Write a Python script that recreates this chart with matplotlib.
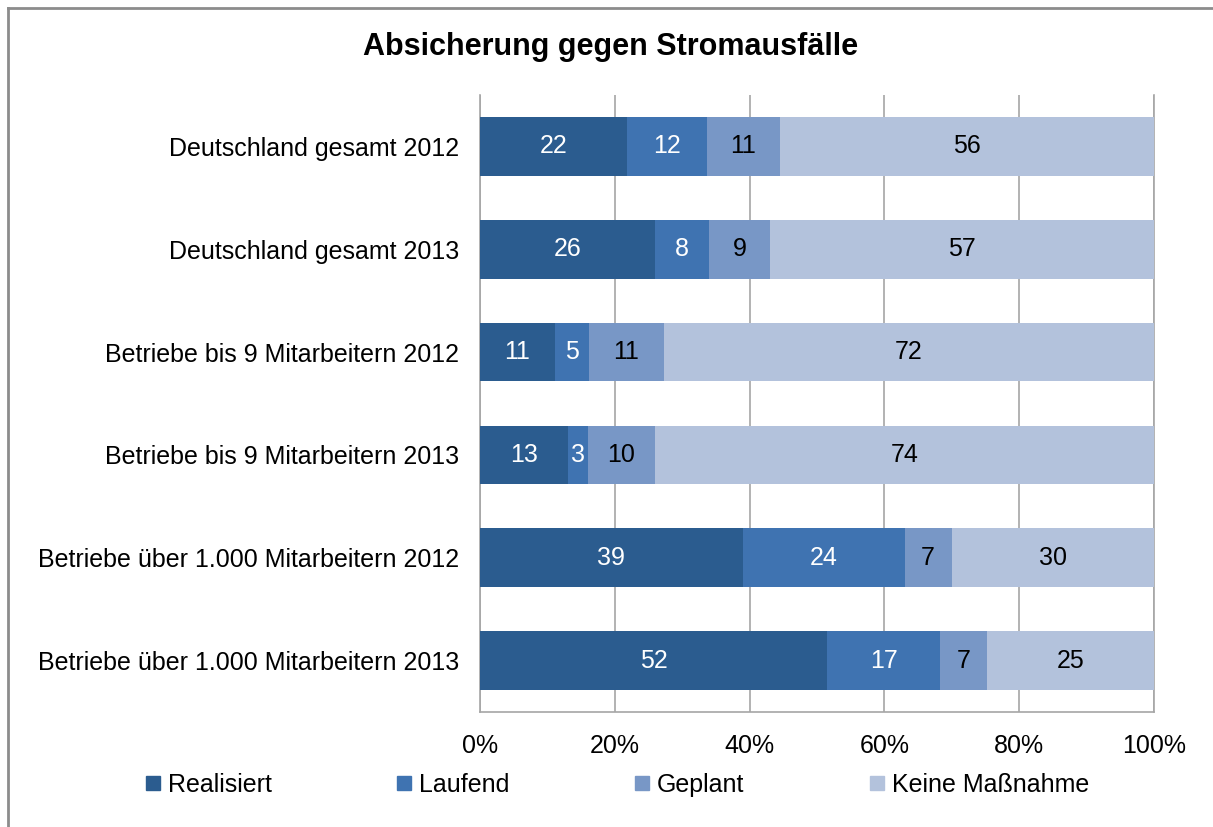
import numpy as np
import matplotlib
matplotlib.use("Agg")
import matplotlib.pyplot as plt
from matplotlib.lines import Line2D

plt.rcParams['font.family'] = ['Liberation Sans', 'DejaVu Sans']

# data (percent per group)
categories = ['Deutschland gesamt 2012', 'Deutschland gesamt 2013',
              'Betriebe bis 9 Mitarbeitern 2012', 'Betriebe bis 9 Mitarbeitern 2013',
              'Betriebe über 1.000 Mitarbeitern 2012', 'Betriebe über 1.000 Mitarbeitern 2013']
series_names = ['Realisiert', 'Laufend', 'Geplant', 'Keine Maßnahme']
realisiert = [22, 26, 11, 13, 39, 52]
laufend = [12, 8, 5, 3, 24, 17]
geplant = [11, 9, 11, 10, 7, 7]
keine = [56, 57, 72, 74, 30, 25]
x_ticks = [0, 20, 40, 60, 80, 100]

colors = ['#2B5C8F', '#3F73B1', '#7897C6', '#B3C2DC']
label_colors = ['white', 'white', 'black', 'black']

values = np.array([realisiert, laufend, geplant, keine], dtype=float)
totals = values.sum(axis=0)
shares = values / totals * 100  # 100% stacked, like Excel

fig = plt.figure(figsize=(12.13, 8.27), dpi=100)
ax = fig.add_axes([0.3957, 0.1391, 0.5556, 0.7461])

y = np.arange(len(categories))
left = np.zeros(len(categories))
for i, name in enumerate(series_names):
    bars = ax.barh(y, shares[i], left=left, height=0.57, color=colors[i],
                   label=name, zorder=3)
    for j, b in enumerate(bars):
        ax.text(left[j] + shares[i][j] / 2, y[j], f'{int(values[i][j])}',
                ha='center', va='center', fontsize=18, color=label_colors[i], zorder=4)
    left += shares[i]

ax.set_xlim(0, 100)
ax.set_ylim(len(categories) - 0.5, -0.5)
ax.set_yticks(y)
ax.set_yticklabels(categories, fontsize=18)
ax.set_xticks(x_ticks)
ax.set_xticklabels([f'{t}%' for t in x_ticks], fontsize=18)
ax.tick_params(axis='both', length=0)
ax.tick_params(axis='y', pad=15)
ax.tick_params(axis='x', pad=16)
ax.grid(axis='x', color='#A6A6A6', linewidth=1.2, zorder=0)
ax.set_axisbelow(True)
for side in ['left', 'bottom', 'right']:
    ax.spines[side].set_color('#A6A6A6')
    ax.spines[side].set_linewidth(1.2)
ax.spines['top'].set_visible(False)

fig.text(0.503, 0.943, 'Absicherung gegen Stromausfälle', ha='center', va='center',
         fontsize=22, fontweight='bold')

handles = [Line2D([], [], linestyle='none', marker='s', markersize=10,
                  markerfacecolor=c, markeredgecolor=c) for c in colors]
fig.legend(handles, series_names, loc='center', bbox_to_anchor=(0.509, 0.051),
           ncol=4, frameon=False, fontsize=18, handlelength=0.6,
           handletextpad=0.3, columnspacing=5.0)

# outer chart frame (cut off at right and bottom)
fig.add_artist(Line2D([0.0066, 0.0066], [0, 0.9903], color='#8C8C8C', linewidth=2))
fig.add_artist(Line2D([0.0066, 1], [0.9903, 0.9903], color='#8C8C8C', linewidth=2))

fig.savefig('out.png', dpi=100)
